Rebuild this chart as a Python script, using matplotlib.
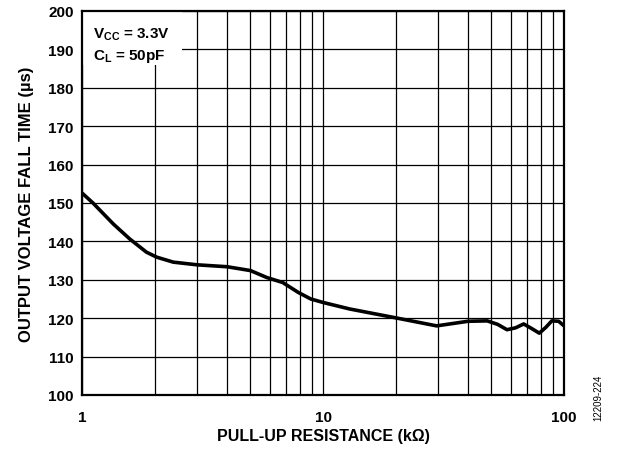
import matplotlib
matplotlib.use("Agg")
import matplotlib.pyplot as plt
from matplotlib.ticker import FixedLocator, NullFormatter
from matplotlib.patches import Rectangle

plt.rcParams['font.family'] = ['Liberation Sans', 'DejaVu Sans']
plt.rcParams['mathtext.fontset'] = 'custom'
plt.rcParams['mathtext.rm'] = 'Liberation Sans'
plt.rcParams['mathtext.bf'] = 'Liberation Sans:bold'

# Data
resistance_kohm = [1, 1.11, 1.35, 1.58, 1.85, 2.04, 2.39, 3, 4, 5, 5.84, 6.8, 7.9, 8.9, 10,
                   12.9, 20, 29.6, 40, 48, 53, 58, 63, 68, 73, 79, 84, 89, 95, 100]
fall_time_us = [152.6, 150.0, 144.5, 140.6, 137.2, 135.9, 134.6, 133.9, 133.4, 132.4, 130.6,
                129.3, 126.7, 125.0, 124.1, 122.4, 120.1, 118.0, 119.2, 119.3, 118.4, 117.0,
                117.5, 118.5, 117.4, 116.1, 117.6, 119.3, 119.2, 118.0]
x_ticks = [1, 10, 100]
x_ticklabels = ["1", "10", "100"]
y_ticks = list(range(100, 201, 10))

fig = plt.figure(figsize=(6.2, 4.52), dpi=100)
ax = fig.add_axes([0.1323, 0.1239, 0.7774, 0.8496])

ax.plot(resistance_kohm, fall_time_us, color='black', lw=2.6, zorder=3,
        solid_capstyle='butt', solid_joinstyle='round')

ax.set_xscale('log')
ax.set_xlim(1, 100)
ax.set_ylim(100, 200)
ax.xaxis.set_major_locator(FixedLocator(x_ticks))
ax.set_xticklabels(x_ticklabels)
minor = [m * d for d in (1, 10) for m in range(2, 10)]
ax.xaxis.set_minor_locator(FixedLocator(minor))
ax.xaxis.set_minor_formatter(NullFormatter())
ax.set_yticks(y_ticks)

ax.set_axisbelow(True)
ax.grid(True, which='both', color='black', lw=0.9)
ax.tick_params(which='both', length=0)
ax.tick_params(axis='x', pad=11, labelsize=11)
ax.tick_params(axis='y', pad=6, labelsize=11)
for lab in ax.get_xticklabels() + ax.get_yticklabels():
    lab.set_fontweight('bold')
for s in ax.spines.values():
    s.set_linewidth(1.6)

ax.add_patch(Rectangle((0, 1 - 0.141), 0.207, 0.141, transform=ax.transAxes,
                       facecolor='white', edgecolor='none', zorder=1))
ax.text(0.022, 0.962, r"$\mathbf{V_{CC}}$ = 3.3V", transform=ax.transAxes,
        fontsize=11, fontweight='bold', va='top', ha='left', zorder=4)
ax.text(0.022, 0.905, r"$\mathbf{C_{L}}$ = 50pF", transform=ax.transAxes,
        fontsize=11, fontweight='bold', va='top', ha='left', zorder=4)

ax.set_xlabel("PULL-UP RESISTANCE (kΩ)", fontsize=11.5, fontweight='bold', labelpad=3)
ax.set_ylabel("OUTPUT VOLTAGE FALL TIME (µs)", fontsize=12, fontweight='bold', labelpad=10)

fig.text(0.965, 0.12, "12209-224", rotation=90, fontsize=7, ha='center', va='center')

fig.savefig("out.png", dpi=100)
